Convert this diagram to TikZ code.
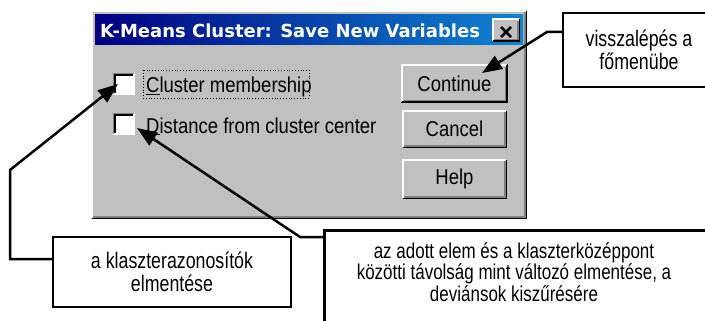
\documentclass[tikz,border=0pt]{standalone}
\usepackage{fontspec}
\setmainfont{Liberation Sans}
\newfontfamily\dlgfont[FakeStretch=0.86]{Liberation Sans}
\newfontfamily\notefont[FakeStretch=0.79]{Liberation Sans}
\newfontfamily\titlefont{DejaVu Sans}
\usepackage{tikz}
\usetikzlibrary{arrows.meta, positioning}
\usepackage{xcolor}
\definecolor{wingray}{RGB}{192,192,192}
\definecolor{winshadow}{RGB}{128,128,128}
\definecolor{titledark}{RGB}{0,0,128}
\definecolor{titlelight}{RGB}{16,132,208}

\tikzset{
  winbtn/.style={fill=wingray, minimum width=105pt, inner sep=0pt, font=\dlgfont\fontsize{21.5}{24}\selectfont},
  chkbox/.style={fill=white, minimum size=22pt, inner sep=0pt},
  callout/.style={draw=black, line width=2.5pt, fill=white, inner sep=0pt},
  notetext/.style={align=center, inner sep=0pt, font=\notefont\fontsize{22.5}{23}\selectfont},
  callline/.style={line width=2.5pt, -{Triangle[length=20pt, width=15pt]}},
}

% kiemelt és süllyesztett keret
\newcommand{\raisedframe}[1]{%
  \draw[white, line width=2pt] ([shift={(1,-1)}]#1.south west) -- ([shift={(1,1)}]#1.north west) -- ([shift={(-1,1)}]#1.north east);
  \draw[black, line width=1.5pt] ([shift={(0.75,-0.75)}]#1.south west) -- ([shift={(-0.75,-0.75)}]#1.south east) -- ([shift={(-0.75,0.75)}]#1.north east);
  \draw[winshadow, line width=1.5pt] ([shift={(2.5,-2.25)}]#1.south west) -- ([shift={(-2.25,-2.25)}]#1.south east) -- ([shift={(-2.25,2.5)}]#1.north east);
}
\newcommand{\sunkenframe}[1]{%
  \draw[winshadow, line width=1.5pt] ([shift={(0.75,-0.75)}]#1.south west) -- ([shift={(0.75,0.75)}]#1.north west) -- ([shift={(-0.75,0.75)}]#1.north east);
  \draw[black, line width=1.5pt] ([shift={(2.25,-2.25)}]#1.south west) -- ([shift={(2.25,2.25)}]#1.north west) -- ([shift={(-2.25,2.25)}]#1.north east);
  \draw[white, line width=1.5pt] ([shift={(0.75,-0.75)}]#1.south west) -- ([shift={(-0.75,-0.75)}]#1.south east) -- ([shift={(-0.75,0.75)}]#1.north east);
}

\begin{document}
\begin{tikzpicture}[x=1pt, y=-1pt]
    \useasboundingbox (0,0) rectangle (705,321);
    \clip (0,0) rectangle (705,321);

    % párbeszédablak
    \node[fill=wingray, minimum width=436pt, minimum height=209pt, inner sep=0pt] (dlg) at (309,114.5) {};
    \raisedframe{dlg}
    \node[left color=titledark, right color=titlelight, minimum width=428pt, minimum height=30pt, inner sep=0pt] (titlebar) at (309,30) {};
    \node[anchor=base west, text=white, inner sep=0pt, font=\titlefont\bfseries\fontsize{18}{20}\selectfont] (title) at (100,38) {K-Means Cluster: Save New Variables};
    \node[fill=wingray, minimum width=28pt, minimum height=23pt, inner sep=0pt] (closebtn) at (506,30) {};
    \raisedframe{closebtn}
    \draw[line width=2.5pt] (501,27) -- (511,37);
    \draw[line width=2.5pt] (511,27) -- (501,37);

    % jelölőnégyzetek
    \node[chkbox] (chk1) at (124,84) {};
    \sunkenframe{chk1}
    \node[chkbox] (chk2) at (124,124) {};
    \sunkenframe{chk2}
    \node[anchor=base west, inner sep=0pt, font=\dlgfont\fontsize{21.5}{24}\selectfont] (member) at (146,93) {\underline{C}luster membership};
    \draw[dotted, line width=0.8pt] (143,70) rectangle (309,98);
    \node[anchor=base west, inner sep=0pt, font=\dlgfont\fontsize{21.5}{24}\selectfont] (distance) at (146,133) {\underline{D}istance from cluster center};

    % gombok
    \node[winbtn, draw=black, line width=1.5pt, minimum height=37pt] (cont) at (454.5,83.5) {Continue};
    \raisedframe{cont}
    \node[winbtn, minimum height=38pt] (canc) at (454.5,129) {Cancel};
    \raisedframe{canc}
    \node[winbtn, minimum height=40pt] (help) at (454.5,179) {Help};
    \raisedframe{help}

    % magyarázó dobozok
    \node[callout, notetext, minimum width=152pt, minimum height=74pt] (visszal) at (639,50) {visszalépés a\\főmenübe};
    \node[callout, notetext, minimum width=238pt, minimum height=70pt] (azon) at (172,272) {a klaszterazonosítók\\elmentése};
    \node[callout, minimum width=390pt, minimum height=110pt, anchor=north west] (tavolsag) at (323,229) {};
    \node[notetext, font=\notefont\fontsize{21.5}{18.5}\selectfont] (tavtext) at (514,272) {az adott elem és a klaszterközéppont\\közötti távolság mint változó elmentése, a\\deviánsok kiszűrésére};

    % nyilak
    \coordinate (bend1) at (547,32);
    \coordinate (tip1) at (482,73);
    \draw[callline] (visszal.west |- bend1) -- (bend1) -- (tip1);
    \coordinate (bend2a) at (10,259);
    \coordinate (bend2b) at (10,170);
    \coordinate (tip2) at (118,84);
    \draw[callline] (azon.west |- bend2a) -- (bend2a) -- (bend2b) -- (tip2);
    \coordinate (bend3) at (300,237);
    \coordinate (tip3) at (137,128);
    \draw[callline] (tavolsag.west |- bend3) -- (bend3) -- (tip3);
\end{tikzpicture}
\end{document}
